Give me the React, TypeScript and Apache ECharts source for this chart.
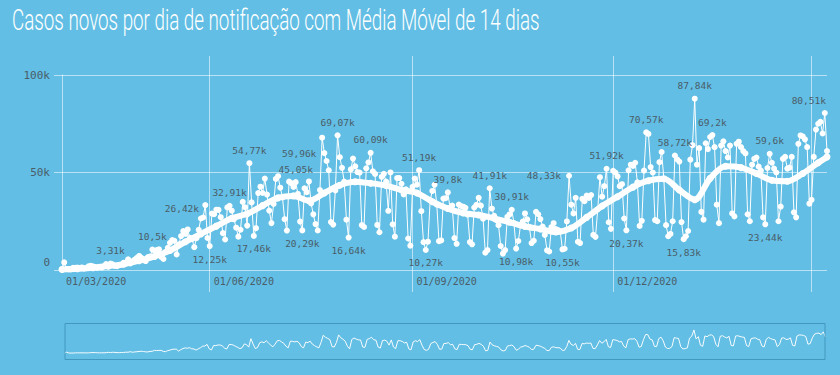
import React, { useEffect, useRef } from 'react';
import * as echarts from 'echarts';

const TITLE = 'Casos novos por dia de notificação com Média Móvel de 14 dias';
const START_DATE = '2020-03-26';

// daily new cases (thousands), one value per day from START_DATE
const DAILY_CASES_K = [
  0.40, 3.90, 0.49, 0.35, 0.32, 1.14,
  1.12, 1.21, 1.01, 1.30, 0.77, 1.03, 1.87,
  2.14, 1.92, 1.55, 1.09, 1.44, 1.26, 1.83,
  3.06, 2.11, 3.31, 2.92, 2.06, 1.93, 2.50,
  2.68, 3.74, 3.50, 5.51, 3.38, 4.61, 5.39,
  6.28, 7.22, 6.21, 4.97, 4.59, 6.63, 6.94,
  10.503, 9.89, 10.22, 10.61, 6.76, 5.63, 9.26,
  11.39, 13.94, 15.31, 14.92, 7.94, 13.14, 17.41,
  19.95, 18.51, 20.80, 16.51, 15.81, 11.69, 16.32,
  20.60, 26.42, 26.93, 33.27, 16.41, 12.25, 28.94,
  28.63, 30.93, 30.83, 27.08, 18.91, 15.65, 32.09,
  32.91, 30.41, 25.98, 21.70, 17.11, 20.65, 34.92,
  32.19, 22.77, 54.77, 34.67, 17.46, 21.43, 39.44,
  42.73, 39.48, 46.86, 38.69, 30.48, 24.05, 33.85,
  46.71, 48.11, 42.22, 37.28, 26.05, 20.23, 45.31,
  44.57, 42.62, 45.05, 39.02, 24.83, 20.29, 41.86,
  39.92, 45.40, 34.18, 28.53, 23.53, 20.26, 41.01,
  67.86, 59.96, 55.89, 51.15, 24.58, 23.28, 40.82,
  69.07, 57.84, 52.38, 45.39, 25.80, 16.64, 51.60,
  57.15, 53.14, 50.23, 49.97, 23.01, 22.05, 52.16,
  55.16, 60.09, 50.64, 49.27, 23.10, 19.37, 47.78,
  49.30, 45.32, 30.36, 50.03, 23.42, 17.08, 47.13,
  47.16, 44.24, 38.78, 41.35, 16.16, 12.46, 42.66,
  46.93, 43.77, 51.19, 30.17, 14.28, 10.27, 14.52,
  35.82, 40.56, 43.72, 33.52, 14.77, 15.16, 36.65,
  36.82, 39.80, 31.91, 33.06, 16.39, 13.44, 33.54,
  32.82, 32.45, 31.91, 28.38, 14.32, 13.16, 32.06,
  33.41, 37.00, 33.00, 26.30, 8.90, 10.20, 41.91,
  31.50, 27.80, 25.50, 23.00, 12.30, 8.40, 10.20,
  27.20, 28.50, 30.91, 24.06, 10.98, 14.88, 23.00,
  24.80, 29.00, 26.00, 22.00, 13.80, 15.00, 29.80,
  28.60, 26.10, 22.30, 18.00, 10.10, 9.50, 22.00,
  24.00, 21.00, 20.50, 19.80, 10.55, 10.90, 24.90,
  48.33, 33.50, 29.00, 37.00, 14.50, 13.80, 36.50,
  35.30, 38.20, 37.00, 38.40, 18.00, 17.00, 31.10,
  47.60, 37.60, 43.00, 51.92, 24.50, 21.10, 50.90,
  50.00, 48.00, 43.00, 44.00, 26.40, 20.37, 51.10,
  54.00, 53.40, 55.00, 45.00, 22.60, 25.20, 51.00,
  70.57, 69.80, 52.80, 50.00, 25.60, 25.00, 55.30,
  60.50, 46.70, 23.00, 17.30, 18.50, 25.00, 58.72,
  56.80, 55.60, 24.60, 15.83, 17.30, 20.00, 56.60,
  64.00, 87.84, 54.00, 62.50, 29.80, 25.80, 65.00,
  62.00, 68.20, 69.20, 63.00, 33.50, 24.00, 63.80,
  66.00, 61.00, 57.70, 63.80, 29.00, 27.50, 64.70,
  65.80, 63.00, 61.00, 59.80, 28.60, 25.00, 54.00,
  57.00, 57.70, 53.00, 51.00, 27.00, 23.44, 52.30,
  59.60, 55.00, 52.00, 50.00, 25.00, 32.50, 57.00,
  58.00, 52.00, 52.50, 58.00, 29.60, 27.00, 64.70,
  69.00, 68.50, 67.00, 63.00, 34.00, 36.00, 58.00,
  72.00, 75.00, 76.00, 70.00, 80.51, 61.00,
];

// 14-day moving average readings (thousands), at these day indexes
const MA14_DAY_INDEX = [
  0, 7, 14, 21, 28, 35, 42, 49, 56, 63, 70, 77, 84, 91, 98, 105, 112, 119, 126, 133,
  140, 147, 154, 161, 168, 175, 182, 189, 196, 203, 210, 217, 224, 231, 238, 245, 252, 259, 266, 273,
  280, 287, 294, 301, 308, 315, 322, 329, 336, 343, 347,
];
const MA14_K = [
  0.3, 0.6, 1.2, 2.0, 3.0, 4.8, 7.0, 10.0, 14.5, 18.5, 22.5, 26.5, 28.8, 33.0, 37.0, 38.0, 35.5, 39.5, 43.5, 45.3,
  44.5, 43.3, 41.0, 39.5, 35.0, 31.5, 29.2, 28.2, 26.5, 24.5, 22.3, 21.0, 19.5, 21.5, 27.0, 32.8, 37.6, 42.5, 45.8, 46.8,
  41.0, 36.0, 47.0, 53.2, 52.5, 49.5, 46.0, 45.5, 49.5, 55.0, 58.0,
];

const Y_MAX_K = 100;
const Y_STEP_K = 50;
const LABEL_MONTHS = ['06', '09', '12'];
const GRID_MONTHS = ['06', '09', '12', '03'];

// which daily points carry a value label, and where it sits
const POINT_LABELS: Record<number, { position: string; offset?: number[] }> = {
  22: { position: 'top' }, 41: { position: 'top' }, 63: { position: 'top', offset: [-19, 3] },
  67: { position: 'bottom' }, 76: { position: 'top' }, 85: { position: 'top' }, 87: { position: 'bottom' },
  106: { position: 'top' }, 109: { position: 'bottom' }, 119: { position: 'left' }, 125: { position: 'top' },
  130: { position: 'bottom' }, 140: { position: 'top' }, 162: { position: 'top' }, 165: { position: 'bottom' },
  175: { position: 'top' }, 194: { position: 'top' }, 204: { position: 'top' }, 206: { position: 'bottom' },
  227: { position: 'bottom' }, 230: { position: 'left' }, 247: { position: 'top' }, 256: { position: 'bottom' },
  265: { position: 'top' }, 278: { position: 'top' }, 282: { position: 'bottom' }, 287: { position: 'top' },
  295: { position: 'top' }, 319: { position: 'bottom' }, 321: { position: 'top' }, 346: { position: 'top', offset: [-16, 0] },
};

const BG = '#62bee4';
const GRID_LINE = 'rgba(255,255,255,0.55)';
const TEXT_GRAY = '#4a5d69';
const MONO = '"DejaVu Sans Mono", "Liberation Mono", monospace';

function dayString(i: number): string {
  const [y, m, d] = START_DATE.split('-').map(Number);
  const t = Date.UTC(y, m - 1, d) + i * 86400000;
  return new Date(t).toISOString().slice(0, 10);
}

const fmtK = (v: number) => String(Number(v.toFixed(2))).replace('.', ',') + 'k';

export default function App() {
  const ref = useRef<HTMLDivElement>(null);
  useEffect(() => {
    document.body.style.margin = '0';
    document.body.style.background = BG;
    if (!ref.current) return;
    const chart = echarts.init(ref.current, undefined, { renderer: 'svg' });
    const categories = DAILY_CASES_K.map((_, i) => dayString(i));

    const titleFont = '300 29px Roboto';
    let scaleX = 0.64;
    try {
      const c = document.createElement('canvas').getContext('2d');
      if (c) {
        c.font = titleFont;
        const w = c.measureText(TITLE).width;
        if (w > 0) scaleX = 528 / w;
      }
    } catch (e) {}

    const dailyData = DAILY_CASES_K.map((v, i) => {
      const spec = POINT_LABELS[i];
      if (!spec) return v;
      return { value: v, label: { show: true, position: spec.position, offset: spec.offset || [0, 0] } };
    });
    const maData = MA14_DAY_INDEX.map((idx, k) => [categories[idx], MA14_K[k]]);

    const isMonthStart = (v: string, months: string[]) => v.slice(8, 10) === '01' && months.includes(v.slice(5, 7));

    chart.setOption({
      animation: false,
      backgroundColor: BG,
      graphic: [
        {
          type: 'text',
          x: 12,
          y: 5,
          scaleX,
          style: { text: TITLE, fill: '#ffffff', font: titleFont, textVerticalAlign: 'top' },
        },
      ],
      grid: [
        { left: 62, right: 13, top: 75, bottom: 105 },
        { left: 62, right: 13, top: 56, bottom: 83 },
      ],
      xAxis: [
        {
          type: 'category',
          gridIndex: 0,
          data: categories,
          boundaryGap: false,
          axisLine: { show: false },
          axisTick: { show: false },
          splitLine: { show: false },
          axisLabel: {
            interval: (index: number, value: string) => index === 0 || isMonthStart(value, LABEL_MONTHS),
            formatter: (value: string) => '01/' + value.slice(5, 7) + '/' + value.slice(0, 4),
            align: 'left',
            padding: [0, 0, 0, 4],
            margin: 6,
            color: TEXT_GRAY,
            fontFamily: MONO,
            fontSize: 10,
          },
        },
        {
          type: 'category',
          gridIndex: 1,
          data: categories,
          boundaryGap: false,
          axisLine: { show: false },
          axisTick: { show: false },
          axisLabel: { show: false },
          splitLine: {
            show: true,
            interval: (index: number, value: string) => isMonthStart(value, GRID_MONTHS),
            lineStyle: { color: GRID_LINE, width: 1 },
          },
        },
      ],
      yAxis: [
        {
          type: 'value',
          gridIndex: 0,
          min: 0,
          max: Y_MAX_K,
          interval: Y_STEP_K,
          axisLine: { show: true, lineStyle: { color: GRID_LINE } },
          axisTick: { show: true, length: 8, lineStyle: { color: GRID_LINE } },
          splitLine: { show: true, lineStyle: { color: GRID_LINE } },
          axisLabel: {
            formatter: (v: number) => (v === 0 ? '{zero|0}' : v + 'k'),
            color: TEXT_GRAY,
            fontFamily: MONO,
            fontSize: 11,
            margin: 12,
            rich: {
              zero: { color: TEXT_GRAY, fontFamily: MONO, fontSize: 11, padding: [0, 0, 15, 0] },
            },
          },
        },
        { type: 'value', gridIndex: 1, show: false, min: 0, max: 1 },
      ],
      dataZoom: [
        {
          type: 'slider',
          xAxisIndex: 0,
          start: 0,
          end: 100,
          left: 62,
          right: 17,
          bottom: 15,
          height: 37,
          showDetail: false,
          brushSelect: false,
          backgroundColor: 'rgba(0,0,0,0)',
          fillerColor: 'rgba(0,0,0,0)',
          borderColor: 'rgba(55,140,180,0.75)',
          handleSize: 0,
          handleStyle: { opacity: 0 },
          moveHandleSize: 0,
          dataBackground: {
            lineStyle: { color: '#ffffff', width: 1, opacity: 0.95 },
            areaStyle: { color: 'rgba(255,255,255,0.05)' },
          },
          selectedDataBackground: {
            lineStyle: { color: '#ffffff', width: 1, opacity: 0.95 },
            areaStyle: { color: 'rgba(255,255,255,0.05)' },
          },
        },
      ],
      series: [
        {
          name: 'Casos novos',
          type: 'line',
          xAxisIndex: 0,
          yAxisIndex: 0,
          data: dailyData,
          symbol: 'circle',
          symbolSize: 6,
          showSymbol: true,
          showAllSymbol: true,
          itemStyle: { color: '#ffffff' },
          lineStyle: { color: '#ffffff', width: 1 },
          label: {
            show: false,
            distance: 5,
            color: TEXT_GRAY,
            fontFamily: MONO,
            fontSize: 9.5,
            formatter: (p: any) => fmtK(typeof p.value === 'number' ? p.value : p.value[1]),
          },
          z: 2,
        },
        {
          name: 'Média Móvel 14 dias',
          type: 'line',
          xAxisIndex: 0,
          yAxisIndex: 0,
          data: maData,
          smooth: 0.3,
          symbol: 'circle',
          symbolSize: 7,
          showAllSymbol: true,
          itemStyle: { color: '#ffffff' },
          lineStyle: { color: '#ffffff', width: 6 },
          z: 3,
        },
      ],
    });
    return () => chart.dispose();
  }, []);

  return (
    <div
      ref={ref}
      style={{ position: 'absolute', left: 0, top: 0, width: 840, height: 375, background: BG }}
    />
  );
}
